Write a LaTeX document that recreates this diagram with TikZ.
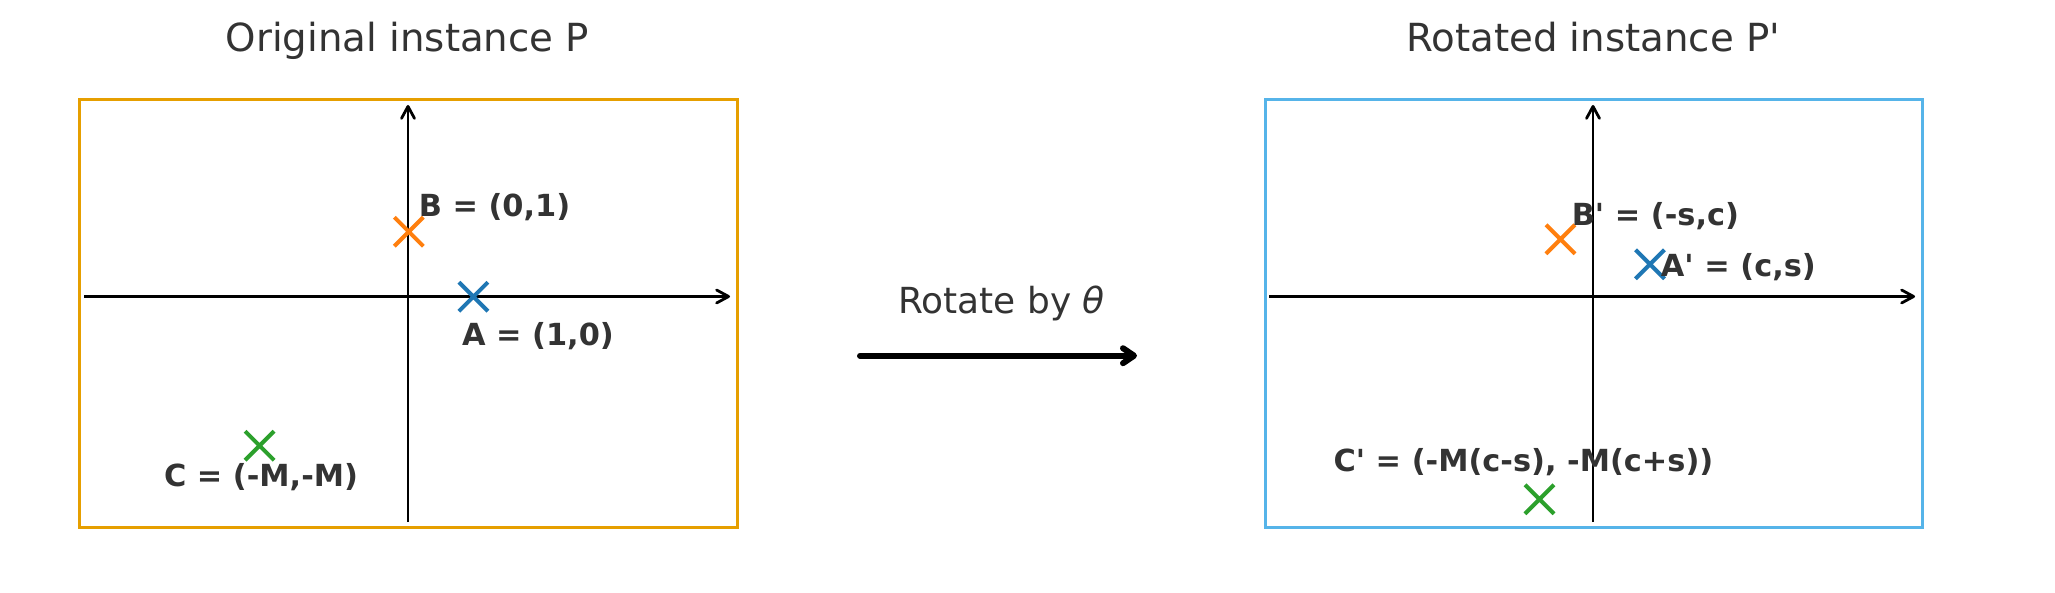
\documentclass[tikz,border=0pt]{standalone}
\usepackage{fontspec}
\setmainfont{DejaVu Sans}[Ligatures=TeXOff]
\usetikzlibrary{arrows.meta,shapes.misc}
\definecolor{boxL}{HTML}{E69F00}
\definecolor{boxR}{HTML}{56B4E9}
\definecolor{ptblue}{HTML}{1F77B4}
\definecolor{ptorange}{HTML}{FF7F0E}
\definecolor{ptgreen}{HTML}{2CA02C}
\definecolor{txt}{HTML}{333333}
\begin{document}
\begin{tikzpicture}[x=1pt,y=-1pt,
  title/.style={font=\fontsize{38.7}{46}\selectfont, text=txt, inner sep=0pt, anchor=base},
  lbl/.style={font=\fontsize{30.4}{36}\selectfont\bfseries, text=txt, inner sep=0pt, anchor=base west},
  mk/.style={cross out, draw=#1, line width=4pt, minimum size=25pt, inner sep=0pt},
  axisline/.style={line width=2.8pt, draw=black, -{Straight Barb[length=12pt,width=13pt,round]}},
  frame/.style={line width=3pt}]
\useasboundingbox[fill=white] (0,0) rectangle (2055,593);

% frames
\draw[frame, draw=boxL] (79.5,99.5) rectangle (737.5,527.5);
\draw[frame, draw=boxR] (1265.5,99.5) rectangle (1922,527.5);

% titles
\node[title] (tL) at (407.5,51.7) {Original instance P};
\node[title] (tR) at (1593.3,51.7) {Rotated instance P'};

% left axes
\coordinate (Lxl) at (84,296.5);
\coordinate (Lxr) at (730,296.5);
\coordinate (Lyb) at (408,522);
\coordinate (Lyt) at (408,105);
\draw[axisline] (Lxl) -- (Lxr);
\draw[axisline] (Lyb) -- (Lyt);

% right axes
\coordinate (Rxl) at (1269,296.5);
\coordinate (Rxr) at (1915,296.5);
\coordinate (Ryb) at (1593,522);
\coordinate (Ryt) at (1593,105);
\draw[axisline] (Rxl) -- (Rxr);
\draw[axisline] (Ryb) -- (Ryt);

% left points
\node[mk=ptorange] (B) at (408.8,231.7) {};
\node[mk=ptblue] (A) at (473.4,296.7) {};
\node[mk=ptgreen] (C) at (259.6,445.7) {};
\node[lbl] (Blbl) at (418.6,216.7) {B = (0,1)};
\node[lbl] (Albl) at (461.8,345.7) {A = (1,0)};
\node[lbl] (Clbl) at (163.8,486) {C = (-M,-M)};

% right points
\node[mk=ptorange] (Bp) at (1560.5,239.3) {};
\node[mk=ptblue] (Ap) at (1650,264.3) {};
\node[mk=ptgreen] (Cp) at (1539.5,499.3) {};
\node[lbl] (Bplbl) at (1571.6,225.7) {B' = (-s,c)};
\node[lbl] (Aplbl) at (1660.7,276.7) {A' = (c,s)};
\node[lbl] (Cplbl) at (1333.3,471.7) {C' = (-M(c-s), -M(c+s))};

% rotation arrow
\coordinate (arS) at (860,355.7);
\coordinate (arE) at (1137,355.7);
\draw[line width=6pt, line cap=round, -{Straight Barb[length=11pt,width=15pt,round]}] (arS) -- (arE);
\node[font=\fontsize{35.9}{42}\selectfont, text=txt, inner sep=0pt, anchor=base] (rot) at (1001.5,314) {Rotate by \textit{θ}};
\end{tikzpicture}
\end{document}
